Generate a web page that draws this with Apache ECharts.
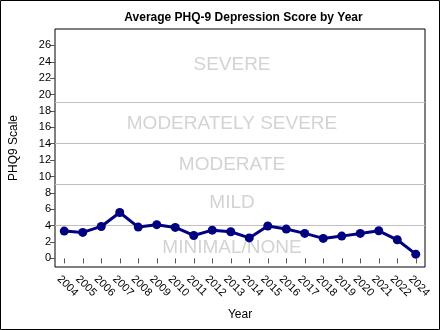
<!DOCTYPE html>
<html><head><meta charset="utf-8">
<script src="https://cdn.jsdelivr.net/npm/echarts@6/dist/echarts.min.js"></script>
<style>html,body{margin:0;padding:0;background:#fff}#c{width:440px;height:330px}</style>
</head><body><div id="c"></div>
<script>
const years = ['2004','2005','2006','2007','2008','2009','2010','2011','2012','2013','2014','2015','2016','2017','2018','2019','2020','2021','2022','2024'];
const scores = [3.33,3.17,3.9,5.6,3.82,4.12,3.78,2.8,3.45,3.25,2.5,3.95,3.58,3.05,2.44,2.72,3.05,3.37,2.27,0.52];
const yTicks = [0,2,4,6,8,10,12,14,16,18,20,22,24,26];
const cutoffs = [4,9,14,19];
const bandNames = ['SEVERE','MODERATELY SEVERE','MODERATE','MILD','MINIMAL/NONE'];
const bandLabelY = [23.6,16.4,11.4,6.75,1.3];

const font = 'Liberation Sans, Arial, sans-serif';
const chart = echarts.init(document.getElementById('c'));
chart.setOption({
  animation:false,
  title:{text:'Average PHQ-9 Depression Score by Year',left:238.5,textAlign:'center',top:7,
    textStyle:{fontFamily:font,fontSize:12,fontWeight:'bold',color:'#000'}},
  grid:{left:52,right:15,top:29,bottom:63,show:true,borderColor:'#000',borderWidth:1},
  xAxis:{type:'category',data:years,boundaryGap:true,
    name:'Year',nameLocation:'middle',nameGap:42,nameTextStyle:{fontFamily:font,fontSize:12,color:'#000'},
    axisLine:{show:false},
    axisTick:{show:true,alignWithLabel:true,length:5,lineStyle:{color:'#555'}},
    axisLabel:{rotate:-45,fontFamily:font,fontSize:11,color:'#000',margin:5,interval:0,verticalAlign:'top',padding:[2,0,0,0]}},
  yAxis:{type:'value',min:-1.05,max:28,
    name:'PHQ9 Scale',nameLocation:'middle',nameGap:35,nameTextStyle:{fontFamily:font,fontSize:12,color:'#000'},
    splitLine:{show:false},axisLine:{show:false},
    axisTick:{show:true,length:5,lineStyle:{color:'#555'},customValues:yTicks},
    axisLabel:{fontFamily:font,fontSize:11,color:'#000',margin:4,customValues:yTicks}},
  series:[{type:'line',data:scores,color:'#000080',lineStyle:{width:3,color:'#000080'},
    symbol:'circle',symbolSize:9,itemStyle:{color:'#000080'},z:5,
    markLine:{silent:true,symbol:'none',label:{show:false},
      lineStyle:{color:'#c0c0c0',width:1,type:'solid'},
      data:cutoffs.map(v=>({yAxis:v}))}}]
});
const gx = 232;
chart.setOption({graphic: bandNames.map((n,i)=>({type:'text',z:-10,zlevel:0,silent:true,
  x:gx,y:chart.convertToPixel({yAxisIndex:0},bandLabelY[i]),
  style:{text:n,fill:'#d3d3d3',font:'19px '+font,textAlign:'center',textVerticalAlign:'middle'}})).concat([
  {type:'rect',shape:{x:0.5,y:0.5,width:439,height:329},style:{fill:null,stroke:'#000',lineWidth:1},silent:true}])});
</script></body></html>
